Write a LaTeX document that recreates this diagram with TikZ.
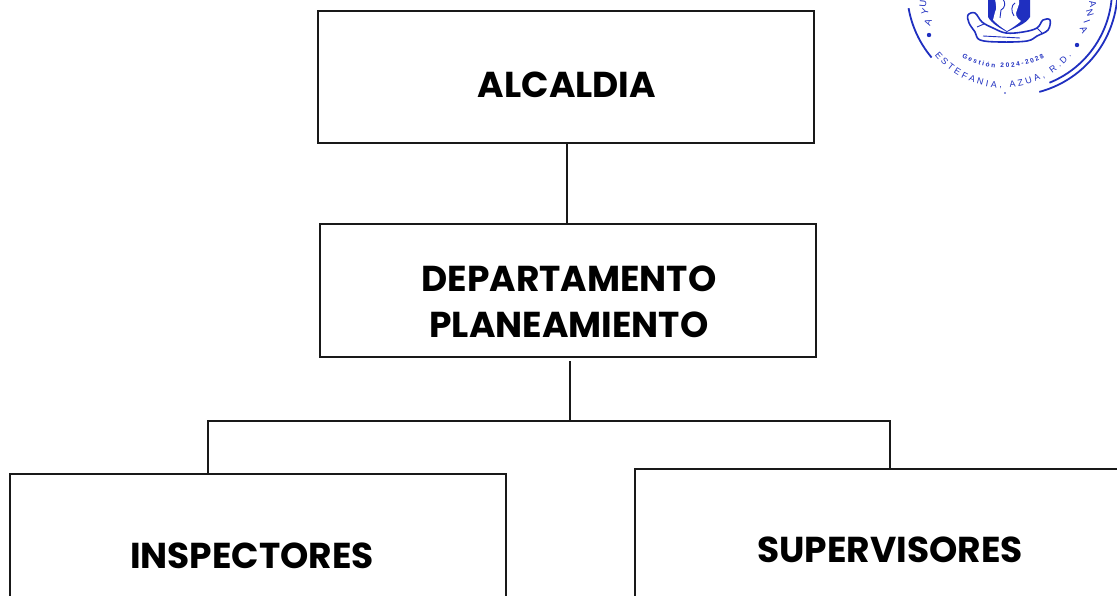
\documentclass[tikz,border=0pt]{standalone}
\usepackage{fontspec}
\setmainfont{Poppins}[BoldFont={* Bold}]
\newfontfamily\stampfont{Liberation Sans}
\usetikzlibrary{decorations.text}
\definecolor{stampblue}{HTML}{1F2FC0}
\tikzset{
  x=1pt,y=-1pt,
  orgbox/.style={draw=black!90,line width=1.9pt,minimum width=496pt,inner sep=0pt,outer sep=0pt,anchor=north west},
  orgtext/.style={font=\fontsize{36}{46}\selectfont\bfseries,align=center,inner sep=0pt,text=black},
  wire/.style={draw=black!90,line width=1.7pt},
  ring/.style={draw=stampblue,line width=1.8pt},
  stampdot/.style={fill=stampblue,draw=none},
  stampline/.style={draw=stampblue,line width=1.6pt,line join=round},
  stampletter/.style={font=\stampfont\fontsize{9.5}{9.5}\selectfont,text=stampblue,inner sep=0pt},
}
\begin{document}
\begin{tikzpicture}
\useasboundingbox (0,0) rectangle (1117,596);
\clip (0,0) rectangle (1117,596);
\fill[white] (0,0) rectangle (1117,596);
% boxes
\node[orgbox,minimum height=132pt] (alc) at (318,11) {};
\node[orgbox,minimum height=133pt] (dep) at (320,224) {};
\node[orgbox,minimum height=164pt] (ins) at (10,474) {};
\node[orgbox,minimum height=162pt] (sup) at (635,469) {};
% labels
\node[orgtext] (talc) at (567,85) {ALCALDIA};
\node[orgtext] (tdep) at (569,302) {DEPARTAMENTO\\PLANEAMIENTO};
\node[orgtext] (tins) at (252,556) {INSPECTORES};
\node[orgtext] (tsup) at (890,550) {SUPERVISORES};
% connectors
\coordinate (a1) at (567,143);
\coordinate (a2) at (567,224);
\coordinate (b1) at (570,361);
\coordinate (bus) at (570,421);
\coordinate (busl) at (208,421);
\coordinate (busr) at (890,421);
\coordinate (dl) at (208,474);
\coordinate (dr) at (890,469);
\draw[wire] (a1) -- (a2);
\draw[wire] (b1) -- (bus);
\draw[wire] (dl) -- (busl) -- (busr) -- (dr);
% stamp rings
\draw[ring] ([shift={(170:105)}]1012,-10) arc[start angle=170,end angle=140,radius=105];
\draw[ring] ([shift={(75:105.5)}]1012,-10) arc[start angle=75,end angle=-10,radius=105.5];
\draw[ring] ([shift={(68:100)}]1012,-10) arc[start angle=68,end angle=-10,radius=100];
% stamp dots
\fill[stampdot] (929,35) circle (2.2);
\fill[stampdot] (1077,45) circle (2.2);
\fill[stampdot] (1005,93) circle (.8);
% stamp letters
\node[stampletter,rotate=72] (s1) at (928,22) {A};
\node[stampletter,rotate=78] (s2) at (925,12) {Y};
\node[stampletter,rotate=84] (s3) at (923,4) {U};
\node[stampletter,rotate=-80] (s4) at (1093,4) {A};
\node[stampletter,rotate=-74] (s5) at (1090,13) {N};
\node[stampletter,rotate=-70] (s6) at (1087,22) {I};
\node[stampletter,rotate=-64] (s7) at (1084,30) {A};
% stamp arc texts
\path[decorate,decoration={text along path,text align={fit to path},
  text={|\stampfont\fontsize{9}{9}\selectfont\color{stampblue}|ESTEFANIA, AZUA, R.D.}}]
  ([shift={(141:88)}]1003,0) arc[start angle=141,end angle=39,radius=88];
\path[decorate,decoration={text along path,text align={fit to path},
  text={|\stampfont\fontsize{6.5}{6.5}\selectfont\bfseries\color{stampblue}|Gestión 2024-2028}}]
  ([shift={(119:85)}]1003,-17) arc[start angle=119,end angle=61,radius=85];
% stamp emblem: shield
\fill[stampblue] (988,-1) -- (988,17) .. controls (992,24) and (1000,28) .. (1007,32)
  .. controls (1016,27) and (1026,24) .. (1030,17) -- (1030,-1) -- cycle;
\fill[white] (995,-1) .. controls (996,5) and (997,9) .. (995,12) -- (993,20)
  .. controls (997,24) and (1002,28) .. (1007,31)
  .. controls (1012,28) and (1018,24) .. (1021,21)
  .. controls (1016,18) and (1015,14) .. (1017,10) -- (1019,4) -- (1019,-1) -- cycle;
\draw[stampline,line width=.9pt] (1003,-1) .. controls (1006,3) and (1005,8) .. (1001,10) -- (1000,18);
\draw[stampline,line width=.9pt] (1015,3) .. controls (1011,5) and (1011,12) .. (1014,16);
% stamp emblem: ribbon
\draw[stampline,fill=white] plot[smooth cycle,tension=.6] coordinates {
  (968,15) (975,13) (982,22) (993,28) (1006,33) (1023,32) (1037,28) (1043,20)
  (1050,20) (1048,30) (1037,36) (1027,41) (1000,42) (980,40) (975,32) (969,23)};
\draw[stampline,line width=.9pt] (977,27) -- (984,24);
\draw[stampline,line width=.9pt] (1037,28) -- (1042,33);
\draw[stampline,line width=.9pt] (983,36) -- (1020,38);
\end{tikzpicture}
\end{document}
